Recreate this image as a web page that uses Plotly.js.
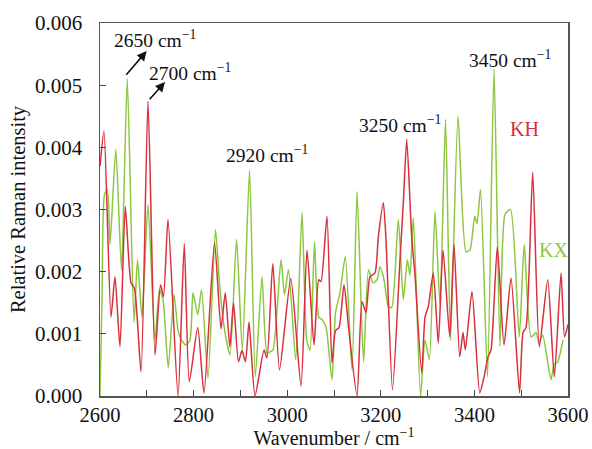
<!DOCTYPE html>
<html>
<head>
<meta charset="utf-8">
<script src="https://cdn.plot.ly/plotly-3.0.1.min.js"></script>
<style>html,body{margin:0;padding:0;background:#fff;}#chart{width:592px;height:449px;}</style>
</head>
<body>
<div id="chart"></div>
<script>
// KH (red) series
const khWavenumber = [2600,2608.5,2623.5,2632,2642.7,2654,2666.2,2673.7,2687.6,2702.6,2717.5,2729.3,2735.7,2745.3,2766.7,2780.1,2790.8,2808.8,2822.2,2844.7,2858.6,2867.7,2877.4,2885.3,2895.9,2903.4,2910.9,2918.4,2931.2,2950.4,2956.8,2969.2,2983.6,3007.7,3029.5,3042.3,3057.3,3067.3,3072.2,3085,3095.7,3103.2,3110.7,3121.4,3131,3149.2,3159.8,3168.4,3176.9,3187.6,3194.7,3205.4,3211.1,3225,3241,3248.5,3255.4,3266,3273.1,3287.4,3294.5,3301.5,3312.2,3322.9,3332.9,3347.3,3356.4,3368.6,3375.7,3380.6,3394.9,3411.4,3420.5,3429.1,3435.5,3449,3463.3,3478.2,3496.4,3503.9,3510.3,3524.6,3538.7,3556.7,3570.8,3585.1,3592.6,3600];
const khIntensity = [0.0037,0.00426,0.00127,0.00192,0.00079,0.00305,0.00182,0.00173,0.00039,0.00474,0.00066,0.00179,0.0016,0.00284,0.0000,0.00245,0.00023,0.0011,0.00005,0.00247,0.00108,0.00166,0.00079,0.0015,0.00055,0.00073,0.00055,0.00119,0.0000,0.00074,0.00061,0.00213,0.00042,0.00189,0.00016,0.00235,0.00082,0.00187,0.00184,0.00289,0.00053,0.00105,0.0011,0.00179,0.00111,0.0000,0.00152,0.00134,0.00192,0.00198,0.00256,0.00311,0.00252,0.0001,0.00219,0.00316,0.00413,0.00256,0.00194,0.00037,0.00127,0.00144,0.00198,0.00085,0.00235,0.00095,0.00244,0.00063,0.00102,0.00074,0.00168,0.00005,0.0003,0.00063,0.00074,0.0024,0.00082,0.0019,0.00005,0.00102,0.0011,0.0036,0.00079,0.00187,0.00031,0.00198,0.00095,0.00115];

// KX (green) series
const kxWavenumber = [2600,2604.3,2609.6,2616,2621.4,2633.8,2645.9,2658.3,2672.7,2680.1,2689.7,2702.6,2717.5,2727.1,2734.6,2745.9,2758.1,2766.7,2774.2,2783.8,2792.3,2798.7,2808.8,2816.9,2830.8,2846.8,2856.4,2867.1,2877.8,2891.7,2904.1,2919.5,2931.8,2946.2,2956.8,2963.3,2969.7,2986.8,2994.2,3002.8,3018.2,3031.6,3041.7,3048.7,3058.4,3067.3,3074.4,3082.9,3095.7,3103.2,3112.8,3124.1,3138.5,3149.2,3163.1,3173.7,3183.4,3191.9,3198.3,3206.9,3216,3223.3,3237.4,3248.1,3256.7,3262.4,3269.5,3284.9,3294.5,3303.7,3315.8,3326.5,3338.3,3349,3365,3382.1,3390.6,3400.7,3405.6,3413.1,3428,3441.9,3454.7,3465.4,3477.2,3495.8,3506.5,3520.9,3531.6,3538,3545.9,3563.7,3570.1,3578,3589.3];
const kxIntensity = [0,0.00155,0.00324,0.00332,0.00244,0.00397,0.00203,0.0051,0.00118,0.00219,0.00127,0.00308,0.0009,0.00171,0.00155,0.00045,0.00163,0.00106,0.0009,0.00082,0.0009,0.00166,0.00131,0.00171,0.00029,0.00268,0.00171,0.00102,0.00066,0.00252,0.00074,0.00363,0.00031,0.00192,0.00069,0.00071,0.00074,0.00219,0.00163,0.00203,0.00058,0.00295,0.0009,0.00074,0.00248,0.00127,0.00123,0.00111,0.00026,0.00134,0.00166,0.00224,0.00042,0.00329,0.00055,0.00203,0.00182,0.00187,0.00208,0.00187,0.00144,0.00142,0.00284,0.00155,0.00219,0.00194,0.00287,0,0.0009,0.00058,0.00297,0.00147,0.00445,0.0009,0.0045,0.00232,0.00235,0.00289,0.00277,0.00332,0.00031,0.00526,0.0008,0.00292,0.003,0.00095,0.00244,0.00095,0.00102,0.00085,0.00098,0.00026,0.0005,0.00055,0.0009];

const xTickVals = [2600,2800,3000,3200,3400,3600];
const yTickVals = [0,0.001,0.002,0.003,0.004,0.005,0.006];

const redColor = '#d8303c';
const greenColor = '#8dc641';
const serif = 'Liberation Serif, Times New Roman, serif';

const traces = [
  {x: kxWavenumber, y: kxIntensity, type: 'scatter', mode: 'lines', name: 'KX',
   line: {color: greenColor, width: 1.5, shape: 'spline', smoothing: 0.6}},
  {x: khWavenumber, y: khIntensity, type: 'scatter', mode: 'lines', name: 'KH',
   line: {color: redColor, width: 1.5, shape: 'spline', smoothing: 0.6}}
];

const annFont = {family: serif, size: 19.5, color: '#111'};
const layout = {
  width: 592, height: 449,
  margin: {l: 100, r: 24, t: 23, b: 53},
  paper_bgcolor: '#fff', plot_bgcolor: '#fff',
  showlegend: false,
  font: {family: serif, size: 21, color: '#111'},
  xaxis: {
    range: [2600, 3600], tickvals: xTickVals, ticktext: xTickVals.map(String),
    ticks: 'inside', ticklen: 6, tickcolor: '#444', tickwidth: 1,
    ticklabelstandoff: 0,
    tickfont: {family: serif, size: 20.5},
    minor: {dtick: 100, ticks: 'inside', ticklen: 6, tickcolor: '#444'},
    showgrid: false, zeroline: false,
    showline: true, linecolor: '#555', linewidth: 1.5, mirror: true,
    title: {text: 'Wavenumber / cm<sup>−1</sup>', font: {family: serif, size: 20}, standoff: 6}
  },
  yaxis: {
    range: [0, 0.006], tickvals: yTickVals, tickformat: '.3f',
    ticks: 'inside', ticklen: 6, tickcolor: '#444', tickwidth: 1,
    ticklabelstandoff: 12,
    showgrid: false, zeroline: false,
    showline: true, linecolor: '#555', linewidth: 1.5, mirror: true,
    title: {text: 'Relative Raman intensity', font: {family: serif, size: 20.5}, standoff: 4}
  },
  annotations: [
    {x: 2717.5, y: 0.00574, text: '2650 cm<sup>−1</sup>', showarrow: false, font: annFont},
    {x: 2792, y: 0.00521, text: '2700 cm<sup>−1</sup>', showarrow: false, font: annFont},
    {x: 2957, y: 0.00389, text: '2920 cm<sup>−1</sup>', showarrow: false, font: annFont},
    {x: 3241, y: 0.00437, text: '3250 cm<sup>−1</sup>', showarrow: false, font: annFont},
    {x: 3476, y: 0.00542, text: '3450 cm<sup>−1</sup>', showarrow: false, font: annFont},
    {x: 3506, y: 0.00429, text: 'KH', showarrow: false, font: {family: serif, size: 20, color: redColor}},
    {x: 3568, y: 0.00235, text: 'KX', showarrow: false, font: {family: serif, size: 20, color: greenColor}},
    {x: 2699.8, y: 0.00555, text: '', showarrow: true, ax: -21.7, ay: 25.3, arrowhead: 2, arrowsize: 1.2, arrowwidth: 1.6, arrowcolor: '#111'},
    {x: 2738.9, y: 0.00505, text: '', showarrow: true, ax: -16.7, ay: 18.7, arrowhead: 2, arrowsize: 1.2, arrowwidth: 1.6, arrowcolor: '#111'}
  ]
};

Plotly.newPlot('chart', traces, layout, {staticPlot: true, displayModeBar: false});
</script>
</body>
</html>
